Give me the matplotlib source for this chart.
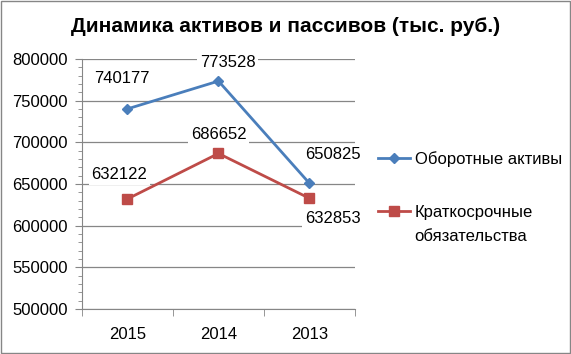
import numpy as np
import matplotlib.pyplot as plt
from matplotlib.ticker import MultipleLocator

plt.rcParams['font.family'] = ['Liberation Sans', 'DejaVu Sans']

years = ["2015", "2014", "2013"]
current_assets = [740177, 773528, 650825]
short_liab = [632122, 686652, 632853]
label_current = "Оборотные активы"
label_liab = ["Краткосрочные", "обязательства"]
title = "Динамика активов и пассивов (тыс. руб.)"

blue = "#4A7EBB"
red = "#BE4B48"
grey = "#868686"

fig = plt.figure(figsize=(5.71, 3.54), dpi=100)
ax = fig.add_axes([0.1436, 0.1271, 0.478, 0.7062])

x = np.arange(len(years))
ax.plot(x, current_assets, color=blue, lw=2.0, marker="D", ms=5.5,
        label=label_current)
ax.plot(x, short_liab, color=red, lw=2.0, marker="s", ms=7,
        label=label_liab[0])

# data labels (offsets in pixels)
off_cur = [(-6, 30), (9, 19), (23, 29)]
off_liab = [(-8, 24), (0, 19), (23, -20)]
for i in range(len(years)):
    for vals, offs in ((current_assets, off_cur), (short_liab, off_liab)):
        ax.annotate(str(vals[i]), (x[i], vals[i]), xytext=offs[i],
                    textcoords="offset pixels", ha="center", va="center",
                    fontsize=12,
                    bbox=dict(boxstyle="square,pad=0.15", fc="white", ec="none"))

ax.set_xlim(-0.5, 2.5)
ax.set_ylim(500000, 800000)
ax.set_xticks(x)
ax.set_xticklabels(years, fontsize=12)
ax.set_xticks([-0.5, 0.5, 1.5, 2.5], minor=True)
ax.tick_params(axis="x", which="major", length=0, pad=13)
ax.tick_params(axis="x", which="minor", length=5, color=grey, direction="out")
ax.yaxis.set_major_locator(MultipleLocator(50000))
ax.yaxis.set_minor_locator(MultipleLocator(10000))
ax.tick_params(axis="y", which="major", length=5, color=grey, labelsize=12, pad=5)
ax.tick_params(axis="y", which="minor", length=3, color=grey)
ax.grid(axis="y", which="major", color=grey, lw=0.9)
ax.set_axisbelow(True)
for s in ("top", "right"):
    ax.spines[s].set_visible(False)
for s in ("left", "bottom"):
    ax.spines[s].set_color(grey)

leg = ax.legend(loc="center left", bbox_to_anchor=(1.06, 0.494), frameon=False,
                fontsize=12, handlelength=1.9, labelspacing=2.3,
                handletextpad=0.3, borderaxespad=0)

fig.text(0.5, 0.925, title, ha="center", va="center", fontsize=15,
         fontweight="bold")

fig.patches.append(plt.Rectangle((0.001, 0.002), 0.997, 0.995,
                                 transform=fig.transFigure, fill=False,
                                 ec=grey, lw=1))

# second line of the wrapped legend label, placed under the first one
fig.canvas.draw()
bb = leg.get_texts()[1].get_window_extent()
fig.text(bb.x0 / fig.bbox.width, (bb.y0 + bb.height / 2 - 24) / fig.bbox.height,
         label_liab[1], ha="left", va="center", fontsize=12)

fig.savefig("out.png", dpi=100)
